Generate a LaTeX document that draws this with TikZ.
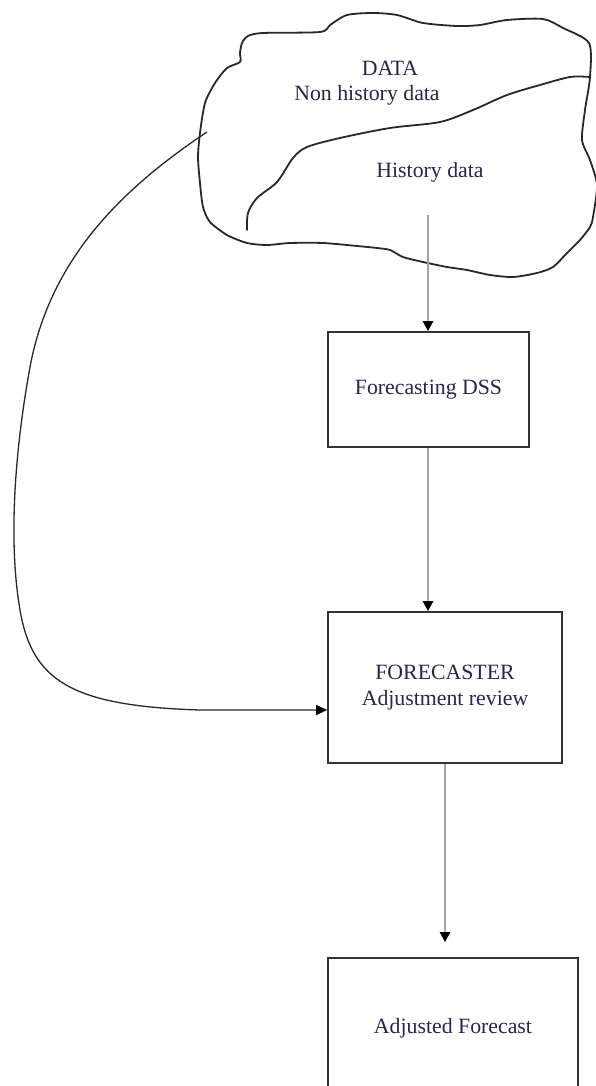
\documentclass[tikz,border=0pt]{standalone}
\usepackage{fontspec}
\setmainfont{Liberation Serif}
\usetikzlibrary{arrows.meta,calc}
\definecolor{txt}{RGB}{38,38,78}
\definecolor{boxline}{RGB}{50,50,50}
\definecolor{flow}{RGB}{165,165,165}
\definecolor{ink}{RGB}{40,40,40}
\begin{document}
\begin{tikzpicture}[x=1pt,y=-1pt,
  box/.style={draw=boxline,line width=1.7pt,inner sep=0pt,align=center,text=txt,
    font=\fontsize{21.8}{26}\selectfont},
  lbl/.style={text=txt,inner sep=0pt,anchor=base,font=\fontsize{21.8}{26}\selectfont},
  flowarrow/.style={draw=flow,line width=2.4pt,-{Triangle[length=10pt,width=10pt,color=black]}},
  curvearrow/.style={draw=ink,line width=1.3pt,-{Triangle[length=11pt,width=10pt,color=black]}},
  cloudline/.style={draw=ink,line width=1.8pt,line join=round,line cap=round}
]
\useasboundingbox (0,0) rectangle (595,1086);
\fill[white] (0,0) rectangle (595,1086);

% cloud outline
\draw[cloudline] plot[smooth cycle, tension=0.45] coordinates {
  (200,133) (205,103) (215,83) (227,68) (240,62) (240,53) (242,43) (248,36)
  (263,33) (320,32) (330,25) (347,15) (373,13) (397,15) (423,23) (457,26)
  (480,25) (507,20) (543,19) (563,28) (589,43) (590,77) (585,110) (582,140)
  (590,160) (597,185) (593,217) (590,227) (580,240) (567,253) (553,267)
  (537,273) (513,277) (490,275) (467,270) (447,267) (423,262) (403,257)
  (390,250) (377,248) (357,246) (323,243) (290,243) (267,245) (247,243)
  (227,235) (210,222) (203,207) (200,183) (198,157)};
% divider between non history and history data
\draw[cloudline] plot[smooth, tension=0.5] coordinates {
  (590,77) (570,77) (540,85) (507,95) (473,110) (440,122) (390,128)
  (340,138) (307,147) (293,158) (277,182) (257,198) (248,213) (247,230)};

\node[lbl] (data) at (390,76) {DATA};
\node[lbl] (nonhist) at (367,101) {Non history data};
\node[lbl] (hist) at (430,178) {History data};

\coordinate (histout) at (428,215);
\coordinate (nonhistout) at (207,132);

% boxes
\node[box,minimum width=201pt,minimum height=115pt] (dss) at (428.5,389.5) {Forecasting DSS};
\node[box,minimum width=234pt,minimum height=151pt] (fc) at (445,687.5) {FORECASTER\\Adjustment review};
\node[box,minimum width=250pt,minimum height=140pt] (adj) at (453,1028) {Adjusted Forecast};

% connectors
\draw[flowarrow] (histout) -- (histout |- dss.north);
\draw[flowarrow] (histout |- dss.south) -- (histout |- fc.north);
\draw[flowarrow,shorten >=15pt] (fc.south) -- (fc.south |- adj.north);

\coordinate (fcin) at ($(fc.west)+(0,22.5)$);
\draw[curvearrow] (nonhistout) .. controls (120,190) and (50,260) .. (30,367)
  .. controls (15,450) and (8,540) .. (20,610)
  .. controls (32,680) and (70,706) .. (200,710) -- (fcin);
\end{tikzpicture}
\end{document}
